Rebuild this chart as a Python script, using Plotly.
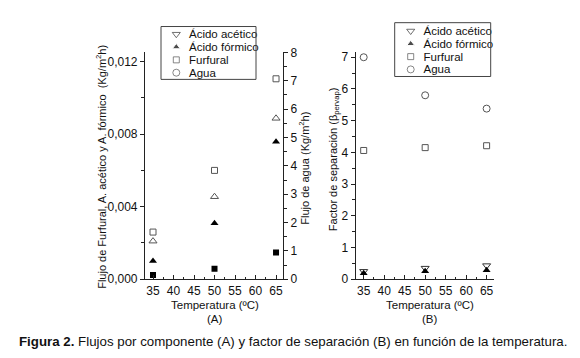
import plotly.graph_objects as go

# ---- data ----
temps = [35, 50, 65]
# Panel A (left axis, Kg/m2h)
furfural_flux = [0.0026, 0.0060, 0.01105]
acetico_flux = [0.0021, 0.00455, 0.00887]
formico_flux = [0.0010, 0.00308, 0.00758]
# Panel A (right axis, Kg/m2h)
agua_flux = [0.15, 0.37, 0.94]
# Panel B separation factor
agua_beta = [7.0, 5.8, 5.38]
furfural_beta = [4.06, 4.15, 4.21]
acetico_beta = [0.25, 0.35, 0.43]
formico_beta = [0.19, 0.25, 0.28]

legend_names = ["Ácido acético", "Ácido fórmico", "Furfural", "Agua"]
x_ticks = [35, 40, 45, 50, 55, 60, 65]

FONT = "Liberation Sans, Arial, sans-serif"
GRAY = "#555555"
W, H = 580, 358

legend_symbols = ["triangle-down-open", "triangle-up", "square-open", "circle-open"]
legend_colors = ["#333333", "black", GRAY, GRAY]
legend_sizes = [7, 7, 6, 7]

fig = go.Figure()

# Panel A data
fig.add_trace(go.Scatter(x=temps, y=furfural_flux, mode="markers",
                         marker=dict(symbol="square-open", size=6, color=GRAY, line=dict(width=1)),
                         xaxis="x", yaxis="y"))
fig.add_trace(go.Scatter(x=temps, y=acetico_flux, mode="markers",
                         marker=dict(symbol="triangle-up-open", size=7, color=GRAY, line=dict(width=1)),
                         xaxis="x", yaxis="y"))
fig.add_trace(go.Scatter(x=temps, y=formico_flux, mode="markers",
                         marker=dict(symbol="triangle-up", size=7, color="black"),
                         xaxis="x", yaxis="y"))
fig.add_trace(go.Scatter(x=temps, y=agua_flux, mode="markers",
                         marker=dict(symbol="square", size=6, color="black"),
                         xaxis="x", yaxis="y2"))

# Panel B data
fig.add_trace(go.Scatter(x=temps, y=agua_beta, mode="markers",
                         marker=dict(symbol="circle-open", size=7, color=GRAY, line=dict(width=1)),
                         xaxis="x2", yaxis="y3"))
fig.add_trace(go.Scatter(x=temps, y=furfural_beta, mode="markers",
                         marker=dict(symbol="square-open", size=6, color=GRAY, line=dict(width=1)),
                         xaxis="x2", yaxis="y3"))
fig.add_trace(go.Scatter(x=temps, y=acetico_beta, mode="markers",
                         marker=dict(symbol="triangle-down-open", size=7, color="#333333", line=dict(width=1)),
                         xaxis="x2", yaxis="y3"))
fig.add_trace(go.Scatter(x=temps, y=formico_beta, mode="markers",
                         marker=dict(symbol="triangle-up", size=7, color="black"),
                         xaxis="x2", yaxis="y3"))

# Legend keys drawn on small categorical axes (one per panel)
for xa, ya in [("x3", "y4"), ("x4", "y5")]:
    fig.add_trace(go.Scatter(x=[0] * len(legend_names), y=legend_names, mode="markers",
                             marker=dict(symbol=legend_symbols, size=legend_sizes, color=legend_colors,
                                         line=dict(width=1)),
                             xaxis=xa, yaxis=ya, cliponaxis=False))

fig.update_traces(showlegend=False)


def px_x(p):
    return p / W


def px_y(p):
    return 1 - p / H


ydom = [px_y(275), px_y(39)]
axis_common = dict(showline=True, linecolor="#222222", linewidth=1.2, showgrid=False, zeroline=False,
                   ticks="outside", ticklen=4, tickwidth=1, tickcolor="#222222",
                   tickfont=dict(family=FONT, size=12, color="#111111"))
xcommon = dict(axis_common, range=[33.05, 66.7], tickvals=x_ticks,
               ticks="inside", minor=dict(dtick=2.5, ticks="inside", ticklen=2.5, tickcolor="#222222"))
minor_y = dict(ticks="outside", ticklen=2.5, tickcolor="#222222")

leg_x_common = dict(visible=False, range=[-1, 1], fixedrange=True)
leg_y_common = dict(type="category", categoryarray=legend_names, range=[3.5, -0.5], showline=False,
                    showgrid=False, zeroline=False, ticks="", side="right", anchor="free",
                    tickmode="array", tickvals=legend_names, ticktext=legend_names,
                    tickfont=dict(family=FONT, size=11.5, color="#111111"))

fig.update_layout(
    width=W, height=H, margin=dict(l=0, r=0, t=0, b=0),
    paper_bgcolor="white", plot_bgcolor="rgba(0,0,0,0)",
    separators=",.", showlegend=False,
    font=dict(family=FONT, size=11, color="#111111"),
    xaxis=dict(xcommon, domain=[px_x(137), px_x(275)], anchor="y"),
    yaxis=dict(axis_common, domain=ydom, range=[0, 0.0125], tickvals=[0, 0.004, 0.008, 0.012],
               tickformat=".3f", anchor="x", minor=dict(minor_y, dtick=0.002)),
    yaxis2=dict(axis_common, overlaying="y", side="right", anchor="x", range=[0, 8], dtick=1,
                minor=dict(minor_y, dtick=0.5)),
    xaxis2=dict(xcommon, domain=[px_x(347.7), px_x(486)], anchor="y3", range=[33.05, 66.8]),
    yaxis3=dict(axis_common, domain=ydom, range=[0, 7.15], dtick=1, anchor="x2",
                minor=dict(minor_y, dtick=0.5)),
    # legend 1 (panel A)
    xaxis3=dict(leg_x_common, domain=[px_x(163.3), px_x(173.3)], anchor="y4"),
    yaxis4=dict(leg_y_common, domain=[px_y(66.7), px_y(13.3)], position=px_x(180)),
    # legend 2 (panel B)
    xaxis4=dict(leg_x_common, domain=[px_x(397.7), px_x(407.7)], anchor="y5"),
    yaxis5=dict(leg_y_common, domain=[px_y(63.3), px_y(10)], position=px_x(414.5)),
)

# legend frames
fig.add_shape(type="rect", xref="paper", yref="paper", x0=px_x(153), x1=px_x(248), y0=px_y(67), y1=px_y(12),
              line=dict(color="#444444", width=1))
fig.add_shape(type="rect", xref="paper", yref="paper", x0=px_x(386.7), x1=px_x(482.7), y0=px_y(64),
              y1=px_y(8), line=dict(color="#444444", width=1))

ann = [
    dict(text="Flujo de Furfural, A. acético y A. fórmico  (Kg/m<sup>2</sup>h)", x=px_x(93), y=px_y(158),
         textangle=-90, font=dict(size=11)),
    dict(text="Flujo de agua (Kg/m<sup>2</sup>h)", x=px_x(296), y=px_y(160), textangle=-90, font=dict(size=11)),
    dict(text="Factor de separación (β<sub>pervap</sub>)", x=px_x(326), y=px_y(150), textangle=-90,
         font=dict(size=11)),
    dict(text="Temperatura (ºC)", x=px_x(207), y=px_y(302), font=dict(size=11.5)),
    dict(text="(A)", x=px_x(207), y=px_y(316), font=dict(size=11.5)),
    dict(text="Temperatura (ºC)", x=px_x(421.7), y=px_y(302), font=dict(size=11.5)),
    dict(text="(B)", x=px_x(421.7), y=px_y(316), font=dict(size=11.5)),
    dict(text="<b>Figura 2.</b> Flujos por componente (A) y factor de separación (B) en función de la temperatura.",
         x=px_x(9), y=px_y(340), xanchor="left", font=dict(size=13.3)),
]
for a in ann:
    a.setdefault("xanchor", "center")
    fig.add_annotation(xref="paper", yref="paper", showarrow=False, yanchor="middle", **a)

fig.write_html("out.html")
